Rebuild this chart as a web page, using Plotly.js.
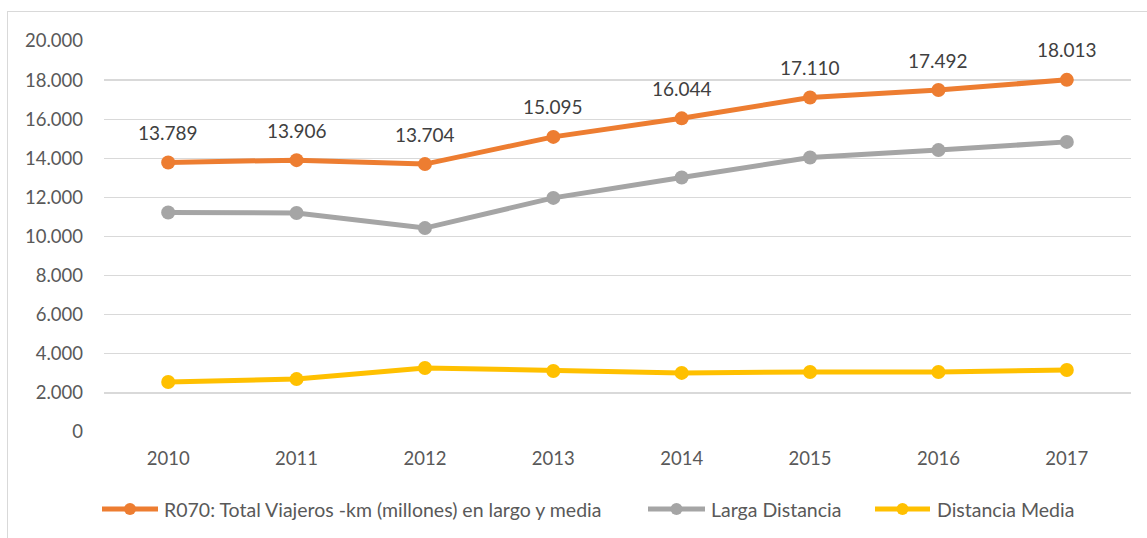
<!DOCTYPE html>
<html>
<head>
<meta charset="utf-8">
<script src="https://cdn.plot.ly/plotly-3.0.1.min.js"></script>
<style>
html,body{margin:0;padding:0;background:#fff;}
#wrap{position:relative;width:1147px;height:538px;overflow:hidden;}
#frame{position:absolute;left:7px;top:11px;width:1150px;height:540px;border:1px solid #d9d9d9;box-sizing:border-box;pointer-events:none;}
#chart{position:absolute;left:0;top:0;width:1147px;height:538px;}
</style>
</head>
<body>
<div id="wrap"><div id="chart"></div><div id="frame"></div></div>
<script>
const years = ['2010','2011','2012','2013','2014','2015','2016','2017'];
const total = [13789, 13906, 13704, 15095, 16044, 17110, 17492, 18013];
const larga = [11230, 11200, 10430, 11975, 13020, 14040, 14420, 14840];
const media = [2559, 2706, 3274, 3120, 3024, 3070, 3072, 3173];
const yTicks = [0, 2000, 4000, 6000, 8000, 10000, 12000, 14000, 16000, 18000, 20000];
const names = ['R070: Total Viajeros -km (millones) en largo y media', 'Larga Distancia', 'Distancia Media'];
const colors = ['#ED7D31', '#A5A5A5', '#FFC000'];

const W = 1147, H = 538;
const M = {l: 104, r: 16, t: 41, b: 106};
const pw = W - M.l - M.r, ph = H - M.t - M.b;
const px2x = p => (p - M.l) / pw;
const px2y = p => (H - M.b - p) / ph;

const font = 'Lato, "Open Sans", sans-serif';
const series = [total, larga, media];
const traces = series.map((s, i) => ({
  x: years, y: s, type: 'scatter', mode: 'lines+markers', name: names[i],
  line: {color: colors[i], width: 5},
  marker: {color: colors[i], size: 14},
  showlegend: false,
  hoverinfo: 'skip'
}));

const fmt = v => v.toLocaleString('de-DE');
const annotations = total.map((v, i) => ({
  x: i, y: v, xref: 'x', yref: 'y', text: fmt(v),
  showarrow: false, yshift: 30, font: {family: font, size: 19, color: '#404040'}
}));

// custom legend (layout positions in pixels)
const legendY = 509;
const legendItems = [
  {x0: 102, x1: 158, tx: 162},
  {x0: 648, x1: 705, tx: 709},
  {x0: 875, x1: 930, tx: 935}
];
const shapes = [];
legendItems.forEach((it, i) => {
  shapes.push({type: 'line', xref: 'paper', yref: 'paper',
    x0: px2x(it.x0), x1: px2x(it.x1), y0: px2y(legendY), y1: px2y(legendY),
    line: {color: colors[i], width: 5}});
  shapes.push({type: 'circle', xref: 'paper', yref: 'paper',
    xsizemode: 'pixel', ysizemode: 'pixel',
    xanchor: px2x((it.x0 + it.x1) / 2), yanchor: px2y(legendY),
    x0: -6, x1: 6, y0: -6, y1: 6,
    fillcolor: colors[i], line: {color: colors[i], width: 0}});
  annotations.push({xref: 'paper', yref: 'paper', x: px2x(it.tx), y: px2y(legendY),
    xanchor: 'left', yanchor: 'middle', showarrow: false, text: names[i],
    font: {family: font, size: 19.5, color: '#595959'}});
});

const layout = {
  width: W, height: H,
  margin: M,
  paper_bgcolor: '#ffffff', plot_bgcolor: '#ffffff',
  separators: ',.',
  showlegend: false,
  xaxis: {type: 'category', showgrid: false, zeroline: false, showline: false,
    ticks: '', ticklabelstandoff: 13, tickfont: {family: font, size: 18.5, color: '#595959'},
    range: [-0.5, years.length - 0.5], fixedrange: true},
  yaxis: {range: [0, 20000], tickvals: yTicks, ticktext: yTicks.map(fmt),
    showgrid: true, gridcolor: '#d9d9d9', gridwidth: 1.3, zeroline: false, showline: false,
    ticks: '', ticklabelstandoff: 20, tickfont: {family: font, size: 18.5, color: '#595959'},
    fixedrange: true},
  shapes: shapes,
  annotations: annotations
};

Plotly.newPlot('chart', traces, layout, {displayModeBar: false, staticPlot: true});
</script>
</body>
</html>
